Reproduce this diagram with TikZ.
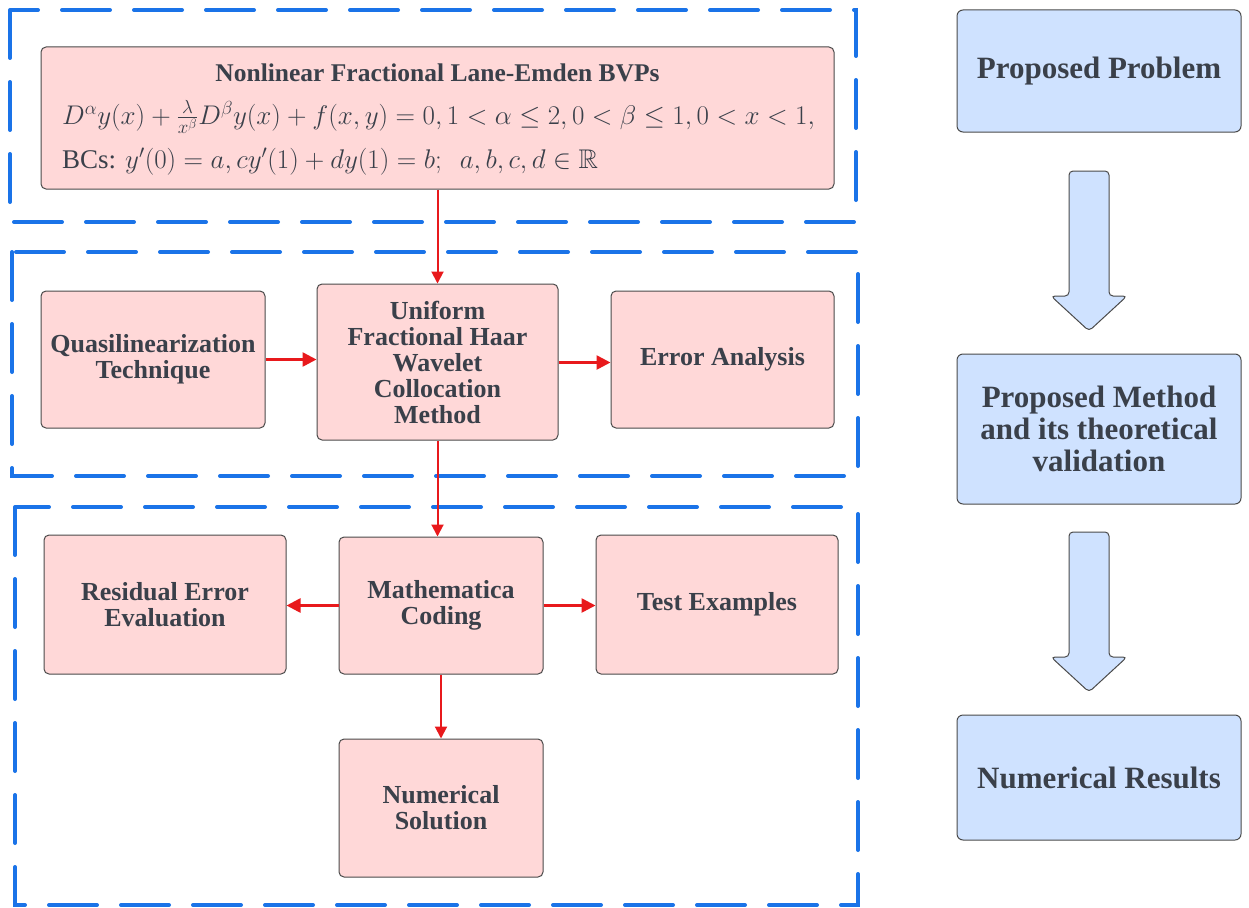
\RequirePackage{fix-cm}
\documentclass[tikz,border=0pt]{standalone}
\usepackage{fontspec}
\setmainfont{Liberation Serif}
\usepackage{amsmath,amssymb}
\usetikzlibrary{arrows.meta}
\definecolor{pinkfill}{HTML}{FFD8D8}
\definecolor{bluefill}{HTML}{CFE2FF}
\definecolor{dashblue}{HTML}{1A73E8}
\definecolor{txt}{HTML}{3A404A}
\definecolor{edge}{HTML}{4A4A4A}
\definecolor{arrred}{HTML}{E8191C}
\tikzset{
  pbox/.style={draw=edge, line width=1pt, fill=pinkfill, rounded corners=5pt, align=center, text=txt, font=\bfseries\fontsize{26}{26}\selectfont, inner sep=2pt},
  bbox/.style={draw=edge, line width=1pt, fill=bluefill, rounded corners=6pt, align=center, text=txt, font=\bfseries\fontsize{31}{32}\selectfont, inner sep=2pt, minimum width=284pt},
  grp/.style={draw=dashblue, line width=4pt, line cap=round, dash pattern=on 48pt off 24pt},
  conn/.style={draw=arrred, line width=2pt, -{Triangle[length=12pt,width=12pt]}},
  hconn/.style={conn, line width=2.6pt, -{Triangle[length=14pt,width=14pt]}},
  barrow/.style={draw=edge, line width=1pt, fill=bluefill, rounded corners=4pt}
}
\begin{document}
\begin{tikzpicture}[x=1pt,y=-1pt]
\useasboundingbox (0,0) rectangle (1249,907);
% dashed groups
\draw[grp] (10,10) rectangle (856,222);
\draw[grp] (12,252) rectangle (858,476);
\draw[grp] (15,507) rectangle (858,905);
% top node
\node[pbox, minimum width=793pt, minimum height=142pt] (top) at (437.5,118) {};
\node[text=txt, font=\bfseries\fontsize{25.5}{26}\selectfont] (title) at (437.5,73) {Nonlinear Fractional Lane-Emden BVPs};
\node[text=txt, font=\fontsize{27}{30}\selectfont, anchor=west, inner sep=0pt] (eq1) at (62,117)
  {$D^{\alpha}y(x)+\frac{\lambda}{x^{\beta}}D^{\beta}y(x)+f(x,y)=0, 1<\alpha\leq 2, 0<\beta\leq 1, 0<x<1,$};
\node[text=txt, font=\fontsize{27}{30}\selectfont, anchor=west, inner sep=0pt] (eq2) at (62,162)
  {BCs: $y'(0)=a, cy'(1)+dy(1)=b;\ \ a,b,c,d\in\mathbb{R}$};
% middle row
\node[pbox, minimum width=224pt, minimum height=137pt] (quasi) at (153,359.5) {Quasilinearization\\Technique};
\node[pbox, minimum width=241pt, minimum height=156pt] (unif) at (437.5,362) {Uniform\\Fractional Haar\\Wavelet\\Collocation\\Method};
\node[pbox, minimum width=223pt, minimum height=137pt] (err) at (722.5,359.5) {Error Analysis};
% bottom row
\node[pbox, minimum width=242pt, minimum height=139pt] (resid) at (165,604.5) {Residual Error\\Evaluation};
\node[pbox, minimum width=204pt, minimum height=137pt] (math) at (441,605.5) {Mathematica\\Coding};
\node[pbox, minimum width=242pt, minimum height=139pt] (test) at (717,604.5) {Test Examples};
\node[pbox, minimum width=204pt, minimum height=138pt] (num) at (441,808) {Numerical\\Solution};
% connectors
\draw[conn] (top.south -| unif.north) -- (unif.north);
\draw[hconn] (quasi.east) -- (unif.west |- quasi.east);
\path (unif.east |- err.west) ++(0,3) coordinate (ue);
\draw[hconn] (ue) -- (err.west |- ue);
\draw[conn] (unif.south) -- (unif.south |- math.north);
\draw[hconn] (math.west) -- (resid.east |- math.west);
\draw[hconn] (math.east) -- (test.west |- math.east);
\draw[conn] (math.south) -- (num.north);
% right column
\node[bbox, minimum height=122pt] (pp) at (1099,71) {Proposed Problem};
\node[bbox, minimum height=150pt] (pm) at (1099,429) {Proposed Method\\and its theoretical\\validation};
\node[bbox, minimum height=125pt] (nr) at (1099,777.5) {Numerical Results};
% block arrows
\draw[barrow] (1069,171) -- (1109,171) -- (1109,296) -- (1127,296) -- (1089,331) -- (1051,296) -- (1069,296) -- cycle;
\draw[barrow] (1069,532) -- (1109,532) -- (1109,657) -- (1127,657) -- (1089,692) -- (1051,657) -- (1069,657) -- cycle;
\end{tikzpicture}
\end{document}
